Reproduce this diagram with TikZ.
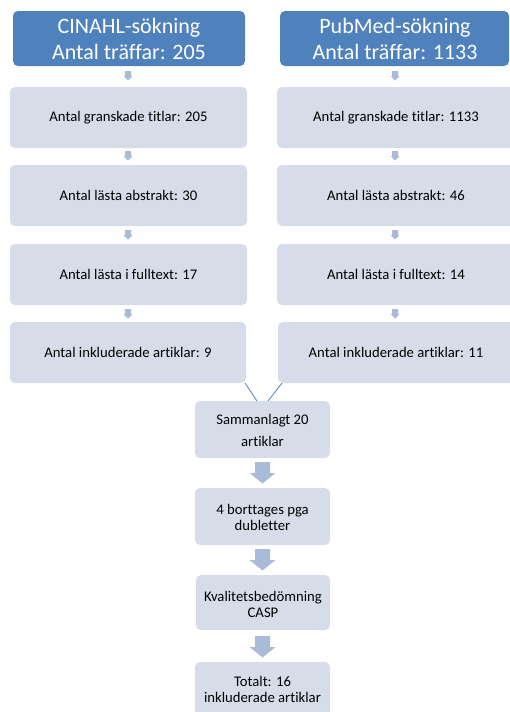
\documentclass[tikz,border=0pt]{standalone}
\usepackage{fontspec}
\setmainfont[Ligatures={NoCommon}]{Carlito}
\definecolor{darkbox}{HTML}{4F81BD}
\definecolor{lightbox}{HTML}{D6DDE9}
\definecolor{arrowcol}{HTML}{A9BBD8}
\begin{document}
\begin{tikzpicture}[x=1pt,y=-1pt,
  headbox/.style={fill=darkbox,rounded corners=5pt,text=white,align=center,
    font=\fontsize{22}{26}\selectfont},
  stagebox/.style={fill=lightbox,rounded corners=5pt,align=center,
    font=\fontsize{14.7}{17}\selectfont},
  midbox/.style={fill=lightbox,rounded corners=5pt,align=center,
    font=\fontsize{14.7}{16}\selectfont},
  joinline/.style={draw=darkbox,line width=0.8pt}]
\useasboundingbox (0,0) rectangle (510,712);
\begin{scope}
\clip (0,0) rectangle (510,712);
% header boxes
\path[headbox] (13,11) rectangle (245,66);
\path[headbox] (280,11) rectangle (509,66);
\node[headbox,fill=none] (h1) at (129,39) {CINAHL-sökning\\Antal träffar: 205};
\node[headbox,fill=none] (h2) at (395,39) {PubMed-sökning\\Antal träffar: 1133};
% left column boxes
\path[stagebox] (10,87) rectangle (247,148);
\path[stagebox] (10,165) rectangle (247,226);
\path[stagebox] (10,244) rectangle (247,305);
\path[stagebox] (10,322) rectangle (246,383);
\node[stagebox,fill=none] (l1) at (128.5,117.5) {Antal granskade titlar: 205};
\node[stagebox,fill=none] (l2) at (128.5,195.5) {Antal lästa abstrakt: 30};
\node[stagebox,fill=none] (l3) at (128.5,274.5) {Antal lästa i fulltext: 17};
\node[stagebox,fill=none] (l4) at (128,352.5) {Antal inkluderade artiklar: 9};
% right column boxes
\path[stagebox] (277,87) rectangle (515,148);
\path[stagebox] (277,165) rectangle (515,226);
\path[stagebox] (277,244) rectangle (515,305);
\path[stagebox] (278,322) rectangle (515,383);
\node[stagebox,fill=none] (r1) at (396,117.5) {Antal granskade titlar: 1133};
\node[stagebox,fill=none] (r2) at (396,195.5) {Antal lästa abstrakt: 46};
\node[stagebox,fill=none] (r3) at (396,274.5) {Antal lästa i fulltext: 14};
\node[stagebox,fill=none] (r4) at (396,352.5) {Antal inkluderade artiklar: 11};
% small arrows
\foreach \cx in {128,395}{
  \foreach \ty in {71,151,230,309}{
    \fill[arrowcol] (\cx-3,\ty) -- (\cx+3,\ty) -- (\cx+3,\ty+5) -- (\cx+4.5,\ty+5)
      -- (\cx,\ty+9.5) -- (\cx-4.5,\ty+5) -- (\cx-3,\ty+5) -- cycle;
  }
}
% merge boxes
\path[midbox] (195,401) rectangle (330,458);
\node[midbox,fill=none,font=\fontsize{14.7}{22}\selectfont] (m1) at (262.5,430) {Sammanlagt 20\\artiklar};
\path[midbox] (195,488) rectangle (330,545);
\node[midbox,fill=none] (m2) at (262.5,517) {4 borttages pga\\dubletter};
\path[midbox] (196,575) rectangle (330,630);
\node[midbox,fill=none] (m3) at (263,604) {Kvalitetsbedömning\\CASP};
\path[midbox] (195,662) rectangle (330,725);
\node[midbox,fill=none] (m4) at (262.5,689.5) {Totalt: 16\\inkluderade artiklar};
% big arrows
\foreach \ty in {462,549,636}{
  \fill[arrowcol] (255,\ty) -- (270,\ty) -- (270,\ty+11) -- (275.5,\ty+11)
    -- (262.5,\ty+21.5) -- (249.5,\ty+11) -- (255,\ty+11) -- cycle;
}
% join lines
\coordinate (lj) at (245,383);
\coordinate (rj) at (282,383);
\coordinate (mj1) at (257,401);
\coordinate (mj2) at (268,401);
\draw[joinline] (lj) -- (mj1);
\draw[joinline] (rj) -- (mj2);
\end{scope}
\end{tikzpicture}
\end{document}
